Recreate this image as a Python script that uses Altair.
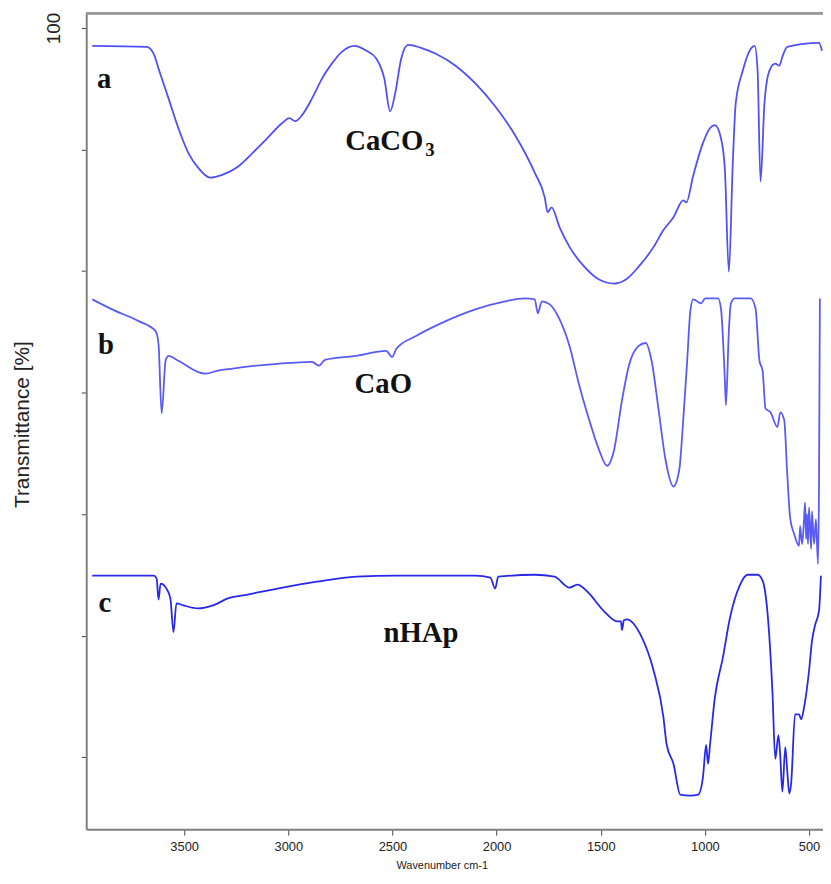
import altair as alt
import pandas as pd

# ---- data (wavenumber cm-1, transmittance in plot units) ----
a_wn = [3941, 3680, 3646, 3623, 3575, 3528, 3480, 3433, 3376, 3314, 3242, 3171, 3100, 3029,
        2995, 2967, 2934, 2886, 2838, 2791, 2743, 2682, 2625, 2577, 2539, 2511, 2487, 2458,
        2425, 2363, 2292, 2197, 2102, 2007, 1912, 1817, 1769, 1755, 1736, 1698, 1650, 1579,
        1508, 1436, 1379, 1318, 1246, 1199, 1151, 1104, 1089, 1056, 1009, 975, 952, 923, 904,
        885, 866, 852, 818, 780, 761, 747, 733, 714, 690, 662, 643, 628, 605, 452, 438]
a_t = [98.53, 98.45, 97.88, 96.66, 94.21, 91.77, 89.73, 88.51, 87.69, 87.94, 88.59, 89.73,
       90.95, 92.18, 92.58, 92.34, 92.83, 94.21, 95.84, 97.07, 98.04, 98.53, 98.13, 97.47,
       95.84, 93.15, 94.62, 97.47, 98.61, 98.37, 97.88, 96.90, 95.44, 93.56, 91.20, 88.10,
       86.06, 84.84, 85.25, 83.62, 81.99, 80.36, 79.30, 78.97, 79.30, 80.36, 81.99, 83.37,
       84.43, 85.82, 85.66, 87.86, 90.55, 91.77, 92.01, 90.95, 88.35, 79.95, 88.92, 93.81,
       96.50, 98.29, 98.53, 96.50, 87.37, 93.81, 96.50, 97.07, 96.90, 97.64, 98.45, 98.78,
       98.13]

b_wn = [3941, 3846, 3718, 3637, 3623, 3608, 3589, 3575, 3528, 3399, 3338, 3276, 3052, 2886,
        2853, 2824, 2672, 2530, 2501, 2482, 2387, 2244, 2102, 1959, 1864, 1817, 1802, 1783,
        1745, 1698, 1650, 1603, 1555, 1508, 1470, 1436, 1398, 1365, 1318, 1284, 1256, 1222,
        1189, 1151, 1123, 1104, 1085, 1070, 1056, 1018, 999, 937, 923, 904, 899, 885, 875,
        856, 780, 757, 738, 723, 709, 685, 652, 638, 619, 605, 590, 571, 548, 543, 533, 524,
        519, 514, 510, 505, 500, 490, 486, 476, 467, 457, 452, 448]
b_t = [77.67, 76.85, 75.88, 75.06, 74.00, 68.30, 72.62, 73.02, 72.62, 71.56, 71.80, 71.96,
       72.37, 72.53, 72.21, 72.70, 73.02, 73.43, 72.94, 73.59, 74.65, 75.88, 76.85, 77.51,
       77.75, 77.67, 76.53, 77.51, 77.26, 76.04, 73.84, 70.58, 67.73, 65.28, 63.98, 65.28,
       69.36, 72.21, 73.84, 74.08, 72.62, 68.54, 64.47, 62.27, 63.65, 67.73, 72.62, 76.69,
       77.67, 77.34, 77.75, 77.75, 76.94, 70.99, 68.95, 75.06, 77.34, 77.75, 77.75, 76.94,
       72.62, 71.80, 68.70, 68.38, 67.16, 68.38, 67.73, 63.41, 59.58, 58.35, 57.38, 59.01,
       57.54, 59.58, 60.96, 57.95, 60.00, 57.54, 60.55, 57.13, 60.23, 57.54, 59.58, 55.91,
       62.84, 77.75]

c_wn = [3941, 3646, 3632, 3623, 3613, 3585, 3566, 3551, 3537, 3504, 3433, 3361, 3290, 3195,
        3052, 2862, 2672, 2482, 2102, 2030, 2007, 1992, 1817, 1722, 1650, 1612, 1565, 1484,
        1422, 1403, 1398, 1389, 1375, 1308, 1246, 1199, 1184, 1151, 1118, 1070, 1032, 1009,
        994, 985, 975, 952, 914, 880, 833, 795, 747, 723, 700, 676, 662, 647, 638, 628, 614,
        605, 595, 586, 567, 548, 538, 524, 500, 486, 471, 452, 443]
c_t = [54.93, 54.93, 54.69, 52.97, 54.28, 53.87, 53.06, 50.29, 52.65, 52.49, 52.24, 52.49,
       53.06, 53.38, 53.87, 54.44, 54.85, 54.93, 54.93, 54.77, 53.87, 54.85, 55.01, 54.85,
       53.95, 54.20, 53.63, 52.00, 51.18, 51.18, 50.45, 51.26, 51.34, 50.04, 47.11, 43.28,
       41.08, 39.45, 36.92, 36.84, 36.92, 38.39, 41.00, 39.45, 41.08, 44.91, 48.17, 51.43,
       54.11, 55.01, 55.01, 54.52, 52.00, 45.48, 39.85, 41.81, 40.02, 37.16, 40.83, 38.96,
       37.00, 37.82, 43.52, 43.52, 43.11, 44.09, 47.11, 49.55, 50.86, 52.08, 54.93]

series_names = ["a", "b", "c"]
series_colors = ["#5050f6", "#5a5af4", "#2828ea"]

x_ticks = [3500, 3000, 2500, 2000, 1500, 1000, 500]
y_ticks = [100, 90, 80, 70, 60, 50, 40]

# annotations
ann_text = ["a", "b", "c", "CaCO", "CaO", "nHAp"]
ann_wn = [3884, 3875, 3880, 2539, 2544, 2363]
ann_t = [95.03, 73.19, 51.92, 89.98, 69.93, 49.47]
sub_text = ["3"]
sub_wn = [2320]
sub_t = [89.49]

# ---- build tables ----
rows = []
for name, wn, t in zip(series_names, [a_wn, b_wn, c_wn], [a_t, b_t, c_t]):
    for i, (w, v) in enumerate(zip(wn, t)):
        rows.append({"series": name, "wn": w, "t": v, "i": i})
df = pd.DataFrame(rows)
ann = pd.DataFrame({"text": ann_text, "wn": ann_wn, "t": ann_t})
sub = pd.DataFrame({"text": sub_text, "wn": sub_wn, "t": sub_t})

W, H = 744, 824
xscale = alt.Scale(domain=[433, 3970], reverse=True, nice=False, zero=False)
yscale = alt.Scale(domain=[34.07, 101.22], nice=False, zero=False)

xaxis = alt.Axis(values=x_ticks, format="d", title="Wavenumber cm-1", grid=False,
                 labelFont="Liberation Sans", labelFontSize=13, labelColor="#222222",
                 labelPadding=6, tickSize=6, tickColor="#444444", tickWidth=1,
                 domainColor="#808080", domainWidth=2,
                 titleFont="Liberation Sans", titleFontSize=11, titleFontWeight="normal",
                 titleColor="#222222", titlePadding=6, titleX=359)
yaxis = alt.Axis(values=y_ticks, title="Transmittance [%]", grid=False,
                 labelExpr="datum.value == 100 ? '100' : ''",
                 labelAngle=-90, labelAlign="center", labelBaseline="bottom",
                 labelFont="Liberation Sans", labelFontSize=19, labelColor="#222222",
                 labelPadding=18, tickSize=5, tickColor="#444444", tickWidth=1,
                 domainColor="#808080", domainWidth=2,
                 titleFont="Liberation Sans", titleFontSize=21, titleFontWeight="normal",
                 titleColor="#222222", titleX=-54, titleY=415, titleBaseline="bottom")

lines = alt.Chart(df).mark_line(strokeWidth=1.8, clip=True, interpolate="monotone").encode(
    x=alt.X("wn:Q", scale=xscale, axis=xaxis),
    y=alt.Y("t:Q", scale=yscale, axis=yaxis),
    color=alt.Color("series:N", scale=alt.Scale(domain=series_names, range=series_colors),
                    legend=None),
    order="i:Q",
    detail="series:N",
)

labels = alt.Chart(ann).mark_text(font="Liberation Serif", fontWeight="bold", fontSize=29,
                                  color="#111111", align="center", baseline="alphabetic").encode(
    x=alt.X("wn:Q", scale=xscale), y=alt.Y("t:Q", scale=yscale), text="text:N")

subs = alt.Chart(sub).mark_text(font="Liberation Serif", fontWeight="bold", fontSize=19,
                                color="#111111", align="center", baseline="alphabetic").encode(
    x=alt.X("wn:Q", scale=xscale), y=alt.Y("t:Q", scale=yscale), text="text:N")

top_border = alt.Chart(ann).mark_rule(color="#999999", strokeWidth=2).encode(
    x=alt.value(0), x2=alt.value(W), y=alt.value(0))

chart = alt.layer(lines, labels, subs, top_border).properties(
    width=W, height=H,
    autosize=alt.AutoSizeParams(type="none"),
    padding={"left": 79, "top": 1, "right": 0, "bottom": 43},
    background="white",
).configure_view(stroke=None)

chart.save("out.html", embed_options={"renderer": "svg", "actions": False})
